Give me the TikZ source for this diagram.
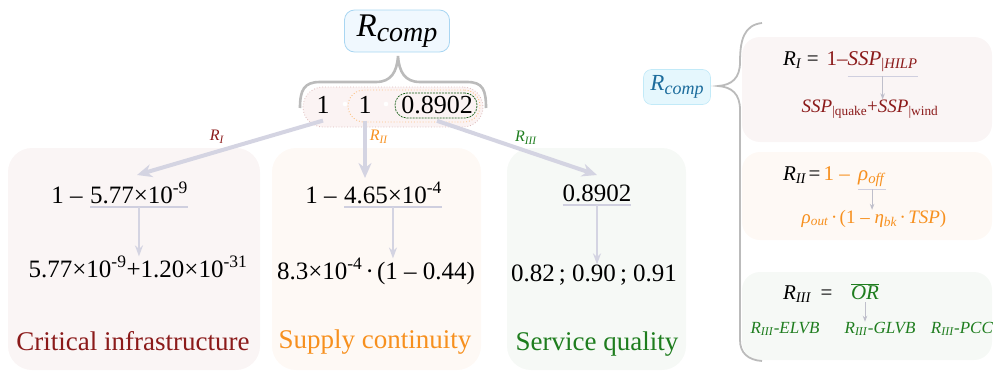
\documentclass[tikz,border=0pt]{standalone}
\usepackage{fontspec}
\setmainfont{Liberation Serif}
\usetikzlibrary{arrows.meta,calc}
\definecolor{dred}{HTML}{8B1A1A}
\definecolor{orng}{HTML}{F7901E}
\definecolor{grn}{HTML}{1E7D1E}
\definecolor{tealc}{HTML}{1C6C9C}
\definecolor{arrc}{HTML}{D4D4E2}
\definecolor{ulc}{HTML}{CFCFDF}
\definecolor{pfill}{HTML}{FAF5F5}
\definecolor{ofill}{HTML}{FEF9F5}
\definecolor{gfill}{HTML}{F6F9F6}
\definecolor{bfill}{HTML}{F0F8FE}
\definecolor{bline}{HTML}{A9D6F2}
\definecolor{cfill}{HTML}{E5F7FD}
\definecolor{cline}{HTML}{C2EAF8}
\definecolor{brc}{HTML}{BBBBBB}
\definecolor{rowfill}{HTML}{FBF3F3}
\newcommand\fsz[1]{\fontsize{#1}{#1}\selectfont}
\tikzset{
  panelbox/.style={draw=none, rounded corners=24, anchor=north west, minimum height=222},
  rpanel/.style={draw=none, rounded corners=18, anchor=north west, minimum width=250},
  bigarr/.style={draw=arrc, line width=4, -{Stealth[length=15pt,width=13pt]}},
  midarr/.style={draw=arrc, line width=2, -{Stealth[length=11pt,width=8pt]}},
  tinyarr/.style={draw=arrc!90!black, line width=0.9, -{Stealth[length=6pt,width=4.5pt]}},
  uline/.style={draw=ulc, line width=1.2},
  f25/.style={font=\fsz{25}},
  ttl/.style={font=\fsz{27}, anchor=base},
  rf1/.style={font=\fsz{21}},
  rf2/.style={font=\fsz{19}},
  rf3/.style={font=\fsz{17}},
  lbl/.style={font=\fsz{16}}
}
\begin{document}
\begin{tikzpicture}[x=1pt,y=-1pt, every node/.style={inner sep=0pt, outer sep=0pt}]
\useasboundingbox (0,0) rectangle (1000,372);

% panels
\node[panelbox, fill=pfill, minimum width=252] (p1) at (8,148) {};
\node[panelbox, fill=ofill, minimum width=209] (p2) at (272,148) {};
\node[panelbox, fill=gfill, minimum width=179] (p3) at (507,148) {};
\node[rpanel, fill=pfill, minimum height=105] (rp1) at (742,37) {};
\node[rpanel, fill=ofill, minimum height=88] (rp2) at (742,152) {};
\node[rpanel, fill=gfill, minimum height=88] (rp3) at (742,272) {};

% top R_comp
\node[draw=bline, fill=bfill, line width=0.8, rounded corners=10, minimum width=105, minimum height=42] (rtop) at (397,31)
  {{\fsz{33}\textit{R}}{\fsz{28}\raisebox{-5pt}{\textit{comp}}}};

% top brace
\draw[brc, line width=2.6] (300,108) .. controls (300,90) and (304,82) .. (320,82) -- (376,82)
  .. controls (391,82) and (397,72) .. (398,56) .. controls (399,72) and (405,82) .. (420,82) -- (467,82)
  .. controls (483,82) and (486,90) .. (486,108);

% row
\node[draw=dred!30, dotted, fill=rowfill, line width=0.8, rounded corners=20, minimum width=180, minimum height=40] (row) at (393,107) {};
\node[draw=orng!55, dotted, line width=0.9, rounded corners=16, minimum width=132, minimum height=32] (orow) at (414,106) {};
\node[draw=grn!75!black, dashed, dash pattern=on 2pt off 1pt, line width=0.7, rounded corners=12, minimum width=82, minimum height=25] (grow) at (436,105.5) {};
\fill[white] (345,104) circle (2.3) (386,104) circle (2.3);
\node[font=\fsz{26}] (n1) at (323,105) {1};
\node[font=\fsz{26}] (n2) at (365,105) {1};
\node[font=\fsz{26}] (n3) at (437,105) {0.8902};

% arrow targets
\coordinate (t1) at (137,175);
\coordinate (t2) at (365,178);
\coordinate (t3) at (597,175);
\draw[bigarr] ([yshift=-7pt]n1.south) -- (t1);
\draw[bigarr] ([yshift=-7pt]n2.south) -- (t2);
\draw[bigarr] ([yshift=-7pt]n3.south) -- (t3);
\node[lbl, text=dred] (l1) at (217,137) {\textit{R}\textsubscript{\textit{I}}};
\node[lbl, text=orng] (l2) at (379,137) {\textit{R}\textsubscript{\textit{II}}};
\node[lbl, text=grn] (l3) at (526,138) {\textit{R}\textsubscript{\textit{III}}};

% panel 1
\node[f25, anchor=base west] (u1) at (90,203) {5.77×10\textsuperscript{-9}};
\node[f25, anchor=base east] (a1) at (u1.base west) {1 –\kern0.3em};
\draw[uline] ([yshift=-4pt]u1.base west) -- ([yshift=-4pt]u1.base east);
\node[f25, anchor=base] (b1) at (138,277) {5.77×10\textsuperscript{-9}+1.20×10\textsuperscript{-31}};
\draw[midarr] ([yshift=-4pt]u1.base) -- (u1.base |- b1.north);
\node[ttl, text=dred] (c1) at (133,350) {Critical infrastructure};

% panel 2
\node[f25, anchor=base west] (u2) at (344,203) {4.65×10\textsuperscript{-4}};
\node[f25, anchor=base east] (a2) at (u2.base west) {1 –\kern0.3em};
\draw[uline] ([yshift=-4pt]u2.base west) -- ([yshift=-4pt]u2.base east);
\node[f25, anchor=base] (b2) at (376,279) {8.3×10\textsuperscript{-4}\,∙\,(1 – 0.44)};
\draw[midarr] ([yshift=-4pt]u2.base) -- (u2.base |- b2.north);
\node[ttl, text=orng] (c2) at (375,348) {Supply continuity};

% panel 3
\node[f25, anchor=base] (u3) at (597,201) {0.8902};
\draw[uline] ([yshift=-4pt]u3.base west) -- ([yshift=-4pt]u3.base east);
\node[f25, anchor=base] (b3) at (594,281) {0.82\,; 0.90\,; 0.91};
\draw[midarr] ([yshift=-4pt]u3.base) -- (u3.base |- b3.north);
\node[ttl, text=grn] (c3) at (597,350) {Service quality};

% right R_comp and brace
\node[draw=cline, fill=cfill, line width=0.6, rounded corners=8, minimum width=67, minimum height=35] (rc) at (677,87)
  {\color{tealc}{\fsz{23}\textit{R}}{\fsz{18}\raisebox{-4pt}{\textit{comp}}}};
\draw[brc, line width=1.8] (762,23) .. controls (744,25) and (740,40) .. (740,62)
  .. controls (740,78) and (732,85) .. (718,86) .. controls (732,87) and (740,94) .. (740,110)
  -- (740,340) .. controls (740,353) and (748,360) .. (762,361);

% right panel 1
\node[rf1, anchor=base west] (ra1) at (783,65) {\textit{R}\textsubscript{\textit{I}}\kern5pt=\kern8pt\textcolor{dred}{1–}};
\node[rf1, anchor=base west, text=dred] (ru1) at (ra1.base east) {\textit{SSP}\textsubscript{|\textit{HILP}}};
\draw[uline, line width=0.9] ([yshift=-11pt]ru1.base west) -- ([yshift=-11pt]ru1.base east);
\node[rf2, anchor=base, text=dred] (rb1) at (870,112) {\textit{SSP}\textsubscript{|quake}+\textit{SSP}\textsubscript{|wind}};
\draw[tinyarr] ([yshift=-11pt]ru1.base) -- (ru1.base |- rb1.north);

% right panel 2
\node[rf1, anchor=base west] (ra2) at (783,180) {\textit{R}\textsubscript{\textit{II}}\kern2pt=\kern3pt\textcolor{orng}{1 –\kern0.4em}};
\node[rf1, anchor=base west, text=orng] (ru2) at (ra2.base east) {\textit{ρ}\textsubscript{\textit{off}}};
\draw[uline, line width=0.9] ([yshift=-9pt]ru2.base west) -- ([yshift=-9pt]ru2.base east);
\node[rf2, anchor=base, text=orng] (rb2) at (874,223) {\textit{ρ}\textsubscript{\textit{out}}\,∙\,(1 – \textit{η}\textsubscript{\textit{bk}}\,∙\,\textit{TSP})};
\draw[tinyarr] ([yshift=-9pt]ru2.base) -- (ru2.base |- rb2.north);

% right panel 3
\node[rf1, anchor=base west] (ra3) at (783,299) {\textit{R}\textsubscript{\textit{III}}\kern9pt=};
\node[rf1, anchor=base, text=grn] (ro) at (865,299) {$\overline{\hbox{\textit{OR}}}$};
\node[rf3, anchor=base, text=grn] (re) at (785,333) {\textit{R}\textsubscript{\textit{III}}-\textit{ELVB}};
\node[rf3, anchor=base, text=grn] (rg) at (880,333) {\textit{R}\textsubscript{\textit{III}}-\textit{GLVB}};
\node[rf3, anchor=base, text=grn] (rpcc) at (962,333) {\textit{R}\textsubscript{\textit{III}}-\textit{PCC}};
\draw[tinyarr] ([yshift=-3pt]ro.south) -- (ro.south |- rg.north);
\end{tikzpicture}
\end{document}
